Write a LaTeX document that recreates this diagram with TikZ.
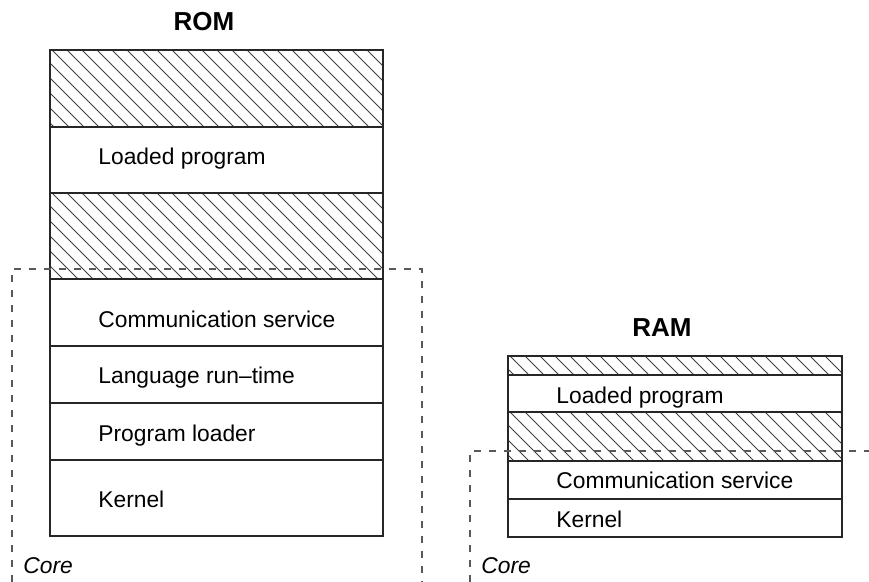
\documentclass[tikz,border=0pt]{standalone}
\usepackage{fontspec}
\setmainfont{Liberation Sans}
\usepackage{tikz}

\tikzset{
	box/.style={draw=black!85, line width=0.7pt},
	hatch/.style={draw=black!75, line width=0.45pt},
	core/.style={draw=black!65, line width=0.6pt, dash pattern=on 3.5pt off 4pt},
	lbl/.style={anchor=base west, inner sep=0pt, font=\fontsize{11.4}{13}\selectfont},
	title/.style={anchor=base, inner sep=0pt, font=\fontsize{13}{15}\selectfont\bfseries},
	corelbl/.style={anchor=base west, inner sep=0pt, font=\fontsize{11.4}{13}\selectfont\itshape}
}

\newcommand{\hatchband}[4] % left x, top y, right x, bottom y (in px)
{
	% diagonal fill
	\begin{scope}
		\clip (#1,#2) rectangle (#3,#4);
		\foreach \s in {-103,-88,...,345}
			\draw[hatch] (#1+\s,#2) -- ++(100,100);
	\end{scope}
	% outline
	\draw[box] (#1,#2) rectangle (#3,#4);
}

\newcommand{\layer}[7] % left x, top y, right x, bottom y, node name, baseline, text
{
	\draw[box] (#1,#2) rectangle (#3,#4);
	\node[lbl] (#5) at (#1+48,#6) {#7};
}

\begin{document}
\begin{tikzpicture}[x=0.5pt, y=-0.5pt]
	% 869 x 582 px, y grows downwards
	\useasboundingbox (0,0) rectangle (869,582);

	% ROM
	\node[title] (romtitle) at (204,31) {ROM};
	\hatchband{50}{50}{383}{127};
	\layer{50}{127}{383}{193}{romload}{165}{Loaded program};
	\hatchband{50}{193}{383}{279};
	\layer{50}{279}{383}{346}{romcomm}{328}{Communication service};
	\layer{50}{346}{383}{403}{romlang}{384}{Language run--time};
	\layer{50}{403}{383}{460}{romloader}{442}{Program loader};
	\layer{50}{460}{383}{536}{romkernel}{508}{Kernel};

	% ROM core
	\draw[core] (12,582) -- (12,269) -- (422,269) -- (422,582);
	\node[corelbl] (romcore) at (23,574) {Core};

	% RAM
	\node[title] (ramtitle) at (662,337) {RAM};
	\hatchband{508}{356}{842}{375};
	\layer{508}{375}{842}{412}{ramload}{404}{Loaded program};
	\hatchband{508}{412}{842}{461};
	\layer{508}{461}{842}{499}{ramcomm}{489}{Communication service};
	\layer{508}{499}{842}{537}{ramkernel}{528}{Kernel};

	% RAM core
	\draw[core] (470,582) -- (470,451) -- (869,451);
	\node[corelbl] (ramcore) at (481,574) {Core};

\end{tikzpicture}
\end{document}
